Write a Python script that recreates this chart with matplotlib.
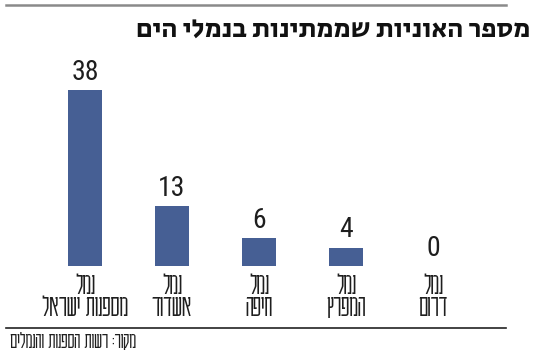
import matplotlib.pyplot as plt
from matplotlib.lines import Line2D

# data
ports = ["נמל\nמספנות ישראל", "נמל\nאשדוד", "נמל\nחיפה", "נמל\nהמפרץ", "נמל\nדרום"]
ships = [38, 13, 6, 4, 0]
title = "מספר האוניות שממתינות בנמלי הים"
source = "מקור: רשות הספנות והנמלים"


def rtl(s):
    # matplotlib has no bidi support, so flip each line for visual order
    return "\n".join(line[::-1] for line in s.split("\n"))


plt.rcParams["font.family"] = ["Karantina", "DejaVu Sans"]
digit_fonts = ["Roboto Condensed", "Archivo Narrow", "PT Sans Narrow",
               "Liberation Sans Narrow", "DejaVu Sans"]
ink = "#1e1e1e"

fig = plt.figure(figsize=(5.5, 3.55), dpi=100)
ax = fig.add_axes([0.0755, 0.2507, 0.791, 0.5211])

x = range(len(ships))
ax.bar(x, ships, width=0.39, color="#465f94")
ax.set_xlim(-0.5, len(ships) - 0.5)
ax.set_ylim(0, 40)

for xi, v in zip(x, ships):
    ax.annotate(str(v), (xi, v), xytext=(0, 3), textcoords="offset points",
                ha="center", va="bottom", fontsize=20, family=digit_fonts,
                color=ink)

ax.set_xticks(list(x))
ax.set_xticklabels([rtl(p) for p in ports], fontsize=22, fontweight=300,
                   color=ink, linespacing=0.85)
ax.tick_params(axis="x", length=0, pad=4)
ax.set_yticks([])
for s in ax.spines.values():
    s.set_visible(False)

# title, rules and source
fig.text(530 / 550, 1 - 30 / 355, rtl(title), ha="right", va="center",
         fontsize=19.5, family=["Secular One", "DejaVu Sans"], color="#111111")
fig.add_artist(Line2D([6 / 550, 506 / 550], [1 - 5 / 355, 1 - 5 / 355],
                      color="#8a8a8a", lw=1.8))
fig.add_artist(Line2D([6 / 550, 506 / 550], [1 - 328 / 355, 1 - 328 / 355],
                      color="#222222", lw=1.2))
fig.text(10 / 550, 1 - 341 / 355, rtl(source), ha="left", va="center",
         fontsize=17, fontweight=300, color=ink)

fig.savefig("out.png", dpi=100)
